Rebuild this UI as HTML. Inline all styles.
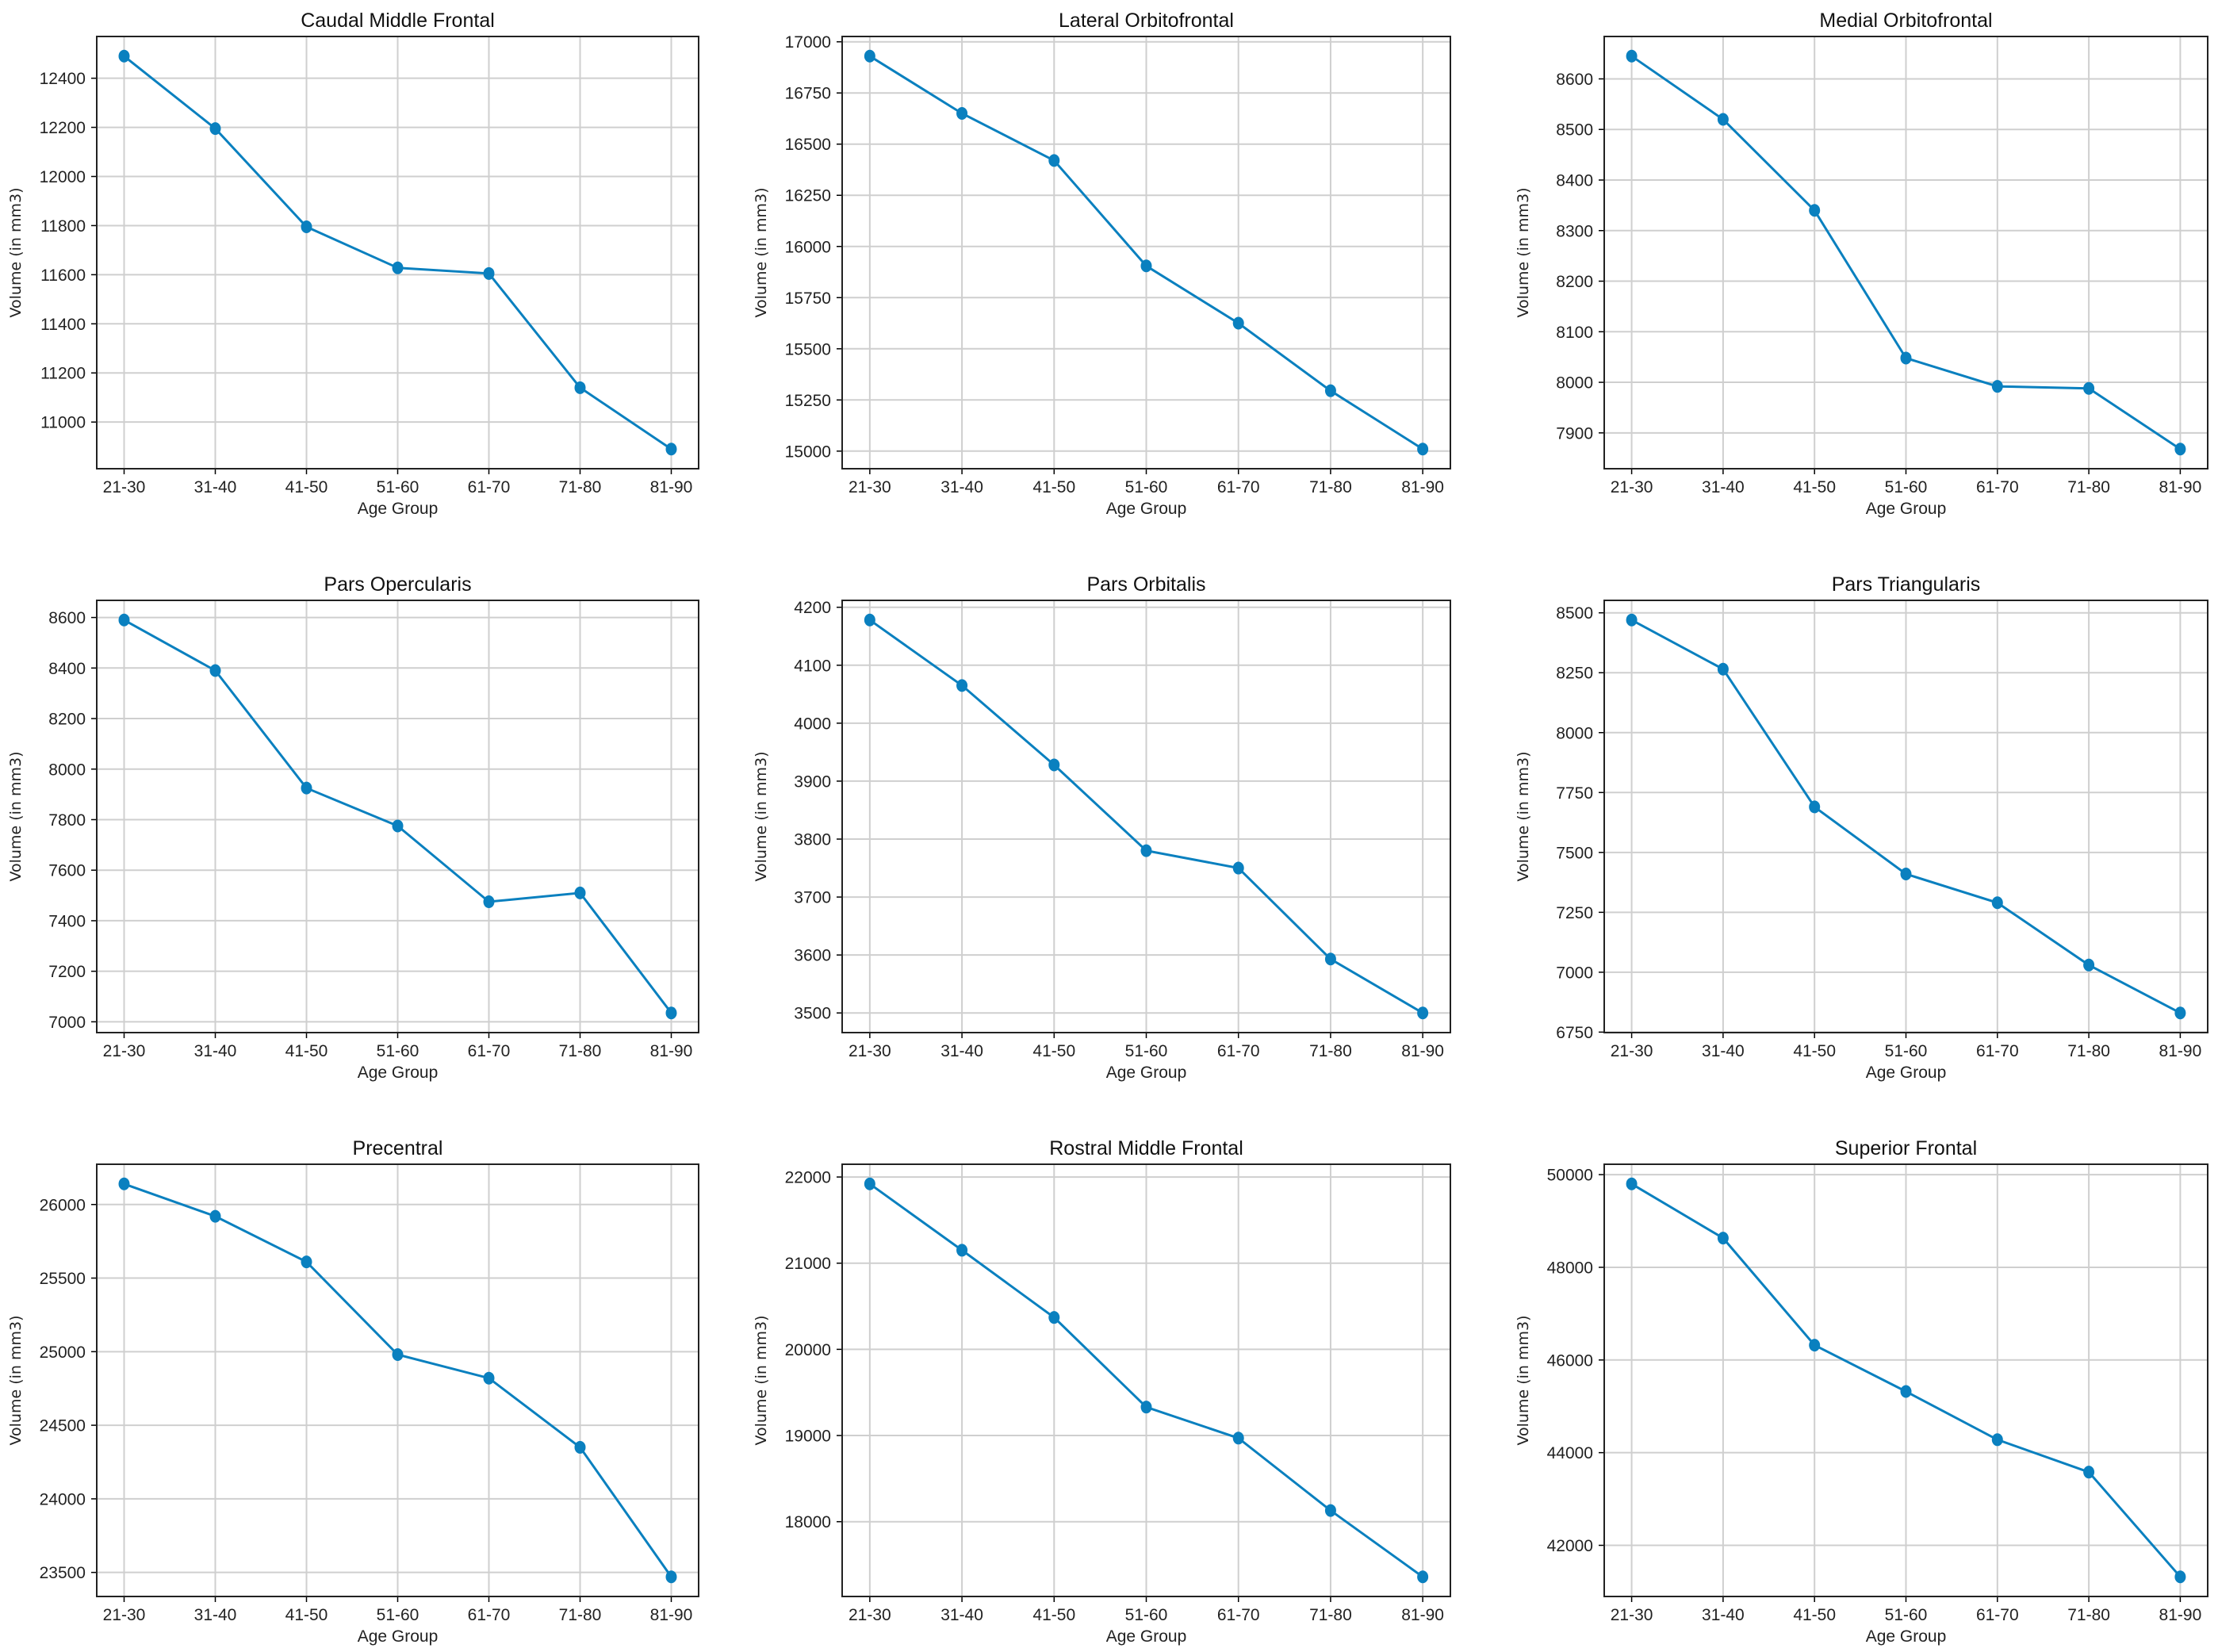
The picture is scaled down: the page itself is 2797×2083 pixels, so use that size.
<!DOCTYPE html>
<html><head><meta charset="utf-8"><style>
html,body{margin:0;padding:0;background:#fff;}
svg{display:block;font-family:"Liberation Sans","DejaVu Sans",sans-serif;}
</style></head><body>
<svg id="fig" width="2797" height="2083" viewBox="0 0 2797 2083" xmlns="http://www.w3.org/2000/svg"></svg>
<script>
const categories = ["21-30","31-40","41-50","51-60","61-70","71-80","81-90"];
const titles = ["Caudal Middle Frontal","Lateral Orbitofrontal","Medial Orbitofrontal","Pars Opercularis","Pars Orbitalis","Pars Triangularis","Precentral","Rostral Middle Frontal","Superior Frontal"];
const caudalMiddleFrontal = [12490,12195,11795,11628,11605,11140,10890];
const lateralOrbitofrontal = [16930,16650,16420,15905,15625,15295,15010];
const medialOrbitofrontal = [8645,8520,8340,8048,7992,7988,7868];
const parsOpercularis = [8590,8390,7925,7775,7475,7510,7035];
const parsOrbitalis = [4178,4065,3928,3780,3750,3593,3500];
const parsTriangularis = [8470,8265,7690,7410,7290,7030,6830];
const precentral = [26140,25920,25610,24980,24820,24350,23470];
const rostralMiddleFrontal = [21920,21150,20370,19330,18970,18130,17360];
const superiorFrontal = [49800,48630,46320,45320,44280,43580,41320];
const ticks1 = [11000,11200,11400,11600,11800,12000,12200,12400];
const ticks2 = [15000,15250,15500,15750,16000,16250,16500,16750,17000];
const ticks3 = [7900,8000,8100,8200,8300,8400,8500,8600];
const ticks4 = [7000,7200,7400,7600,7800,8000,8200,8400,8600];
const ticks5 = [3500,3600,3700,3800,3900,4000,4100,4200];
const ticks6 = [6750,7000,7250,7500,7750,8000,8250,8500];
const ticks7 = [23500,24000,24500,25000,25500,26000];
const ticks8 = [18000,19000,20000,21000,22000];
const ticks9 = [42000,44000,46000,48000,50000];
const seriesList = [caudalMiddleFrontal,lateralOrbitofrontal,medialOrbitofrontal,parsOpercularis,parsOrbitalis,parsTriangularis,precentral,rostralMiddleFrontal,superiorFrontal];
const tickList = [ticks1,ticks2,ticks3,ticks4,ticks5,ticks6,ticks7,ticks8,ticks9];

const NS="http://www.w3.org/2000/svg";
const svg=document.getElementById('fig');
const colL=[122,1062,2023], colW=[759,767,761];
const rowT=[46,757,1468], rowH=545;
function mk(tag,attrs,parent){const e=document.createElementNS(NS,tag);for(const k in attrs)e.setAttribute(k,attrs[k]);(parent||svg).appendChild(e);return e;}
function slug(s){return s.toLowerCase().replace(/\s+/g,'-');}

for(let p=0;p<9;p++){
  const L=colL[p%3], W=colW[p%3], T=rowT[Math.floor(p/3)], H=rowH;
  const data=seriesList[p], tks=tickList[p];
  const g=mk('g',{});
  
  
  const n=categories.length;
  const xm=(n-1)*0.05;
  const xs=i=>L+(i+xm)/((n-1)+2*xm)*W;
  const mn=Math.min(...data), mx=Math.max(...data), m=(mx-mn)*0.05;
  const y0=mn-m, y1=mx+m;
  const ys=v=>T+(y1-v)/(y1-y0)*H;
  // grid
  categories.forEach((c,i)=>{
    const x=xs(i);
    const gl=mk('line',{x1:x,x2:x,y1:T,y2:T+H,stroke:'#cfcfcf','stroke-width':2},g);
    
    
    mk('line',{x1:x,x2:x,y1:T+H,y2:T+H+7,stroke:'#000','stroke-width':1.5},g);
    const t=mk('text',{x:x,y:T+H+30,'text-anchor':'middle','font-size':21,fill:'#222'},g);
    t.textContent=c;
    
    
  });
  tks.forEach(v=>{
    const y=ys(v);
    if(y<T-0.5||y>T+H+0.5)return;
    const gl=mk('line',{x1:L,x2:L+W,y1:y,y2:y,stroke:'#cfcfcf','stroke-width':2},g);
    
    
    mk('line',{x1:L-7,x2:L,y1:y,y2:y,stroke:'#000','stroke-width':1.5},g);
    const t=mk('text',{x:L-14,y:y+7.5,'text-anchor':'end','font-size':21,fill:'#222'},g);
    t.textContent=String(v);
    
    
  });
  // line
  const pts=data.map((v,i)=>xs(i).toFixed(1)+','+ys(v).toFixed(1)).join(' ');
  const pl=mk('polyline',{points:pts,fill:'none',stroke:'#0a80bf','stroke-width':3},g);
  
  
  data.forEach((v,i)=>{
    const c=mk('ellipse',{cx:xs(i),cy:ys(v),rx:7,ry:8,fill:'#0a80bf'},g);
    
    
  });
  const fr=mk('rect',{x:L,y:T,width:W,height:H,fill:'none',stroke:'#222','stroke-width':2},g);
  
  
  const tt=mk('text',{x:L+W/2,y:T-12,'text-anchor':'middle','font-size':25,fill:'#111'},g);
  tt.textContent=titles[p];
  
  
  const xl=mk('text',{x:L+W/2,y:T+H+57,'text-anchor':'middle','font-size':21,fill:'#222'},g);
  xl.textContent='Age Group';
  
  
  const yx=L-96, yy=T+H/2;
  const yl=mk('text',{x:yx,y:yy,'text-anchor':'middle','font-size':19,fill:'#222','font-family':'DejaVu Sans, sans-serif',transform:'rotate(-90 '+yx+' '+yy+')'},g);
  yl.textContent='Volume (in mm3)';
  
  
}
</script>
</body></html>
